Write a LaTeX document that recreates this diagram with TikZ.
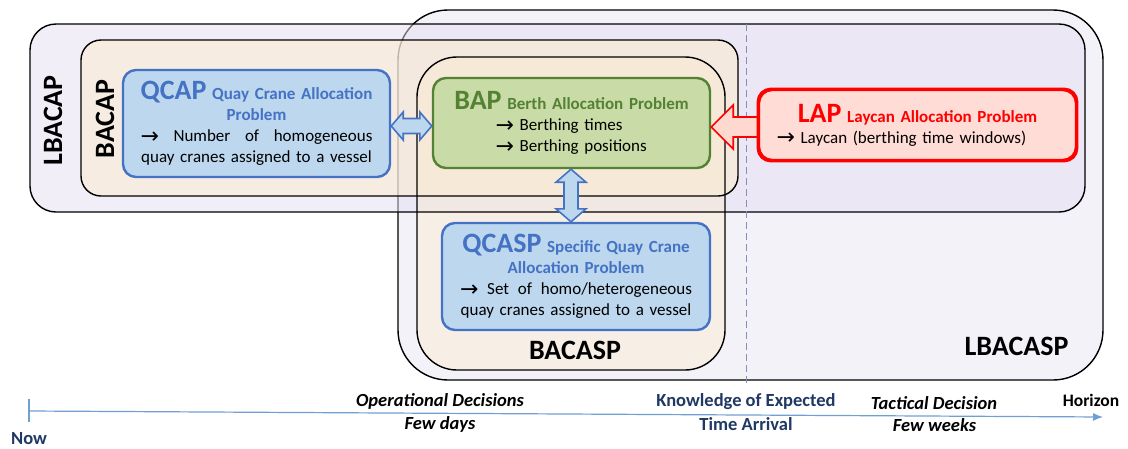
\documentclass[tikz,border=0pt]{standalone}
\usepackage{fontspec}
\setmainfont{Carlito}
\newfontfamily\arrfont{DejaVu Sans}
\usetikzlibrary{calc,arrows.meta}
\definecolor{lav}{HTML}{F4F2F9}
\definecolor{lavB}{HTML}{E4DEF0}
\definecolor{beige}{HTML}{FCEBCF}
\definecolor{qfill}{HTML}{BDD7EE}
\definecolor{qdraw}{HTML}{4472C4}
\definecolor{bfill}{HTML}{C9DBA6}
\definecolor{bdraw}{HTML}{548235}
\definecolor{lfill}{HTML}{FFDCD5}
\definecolor{ldraw}{HTML}{FF0000}
\definecolor{rfill}{HTML}{FFD9CF}
\definecolor{navy}{HTML}{203864}
\definecolor{tline}{HTML}{6F9FD3}
\definecolor{dashc}{HTML}{8090B8}
\newcommand{\bigT}[2]{{\fontsize{28}{28}\selectfont\bfseries\textcolor{#1}{#2}}}
\newcommand{\smT}[2]{{\fontsize{17}{21}\selectfont\bfseries\textcolor{#1}{#2}}}
\newcommand{\arr}{\raisebox{-1.5pt}{\arrfont\fontsize{22}{15}\selectfont →}}
\newcommand{\dblH}[2]{%
\filldraw[barrow] (#1) -- ($(#1)+(12,-14)$) -- ($(#1)+(12,-7.5)$) -- ($(#2)+(-12,-7.5)$) -- ($(#2)+(-12,-14)$) -- (#2) -- ($(#2)+(-12,14)$) -- ($(#2)+(-12,7.5)$) -- ($(#1)+(12,7.5)$) -- ($(#1)+(12,14)$) -- cycle;}
\newcommand{\dblV}[2]{%
\filldraw[barrow] (#1) -- ($(#1)+(15,13)$) -- ($(#1)+(7,13)$) -- ($(#2)+(7,-13)$) -- ($(#2)+(15,-13)$) -- (#2) -- ($(#2)+(-15,-13)$) -- ($(#2)+(-7,-13)$) -- ($(#1)+(-7,13)$) -- ($(#1)+(-15,13)$) -- cycle;}
\begin{document}
\begin{tikzpicture}[x=1pt,y=-1pt,
  region/.style={draw=black, line width=1.4pt, inner sep=0pt},
  regfill/.style={inner sep=0pt},
  qbox/.style={draw=qdraw, fill=qfill, line width=2.4pt, rounded corners=13pt, inner sep=0pt},
  bbox/.style={draw=bdraw, fill=bfill, line width=2.4pt, rounded corners=13pt, inner sep=0pt},
  lbox/.style={draw=ldraw, fill=lfill, line width=2.4pt, rounded corners=13pt, inner sep=0pt},
  barrow/.style={draw=qdraw, fill=qfill, line width=1.6pt, line join=miter},
  rarrow/.style={draw=ldraw, fill=rfill, line width=1.6pt, line join=miter},
  reglabel/.style={font=\fontsize{28}{28}\selectfont\bfseries, inner sep=0pt},
  tltext/.style={font=\fontsize{18.5}{18.5}\selectfont\bfseries\itshape, inner sep=0pt},
  tlnavy/.style={font=\fontsize{18.5}{18.5}\selectfont\bfseries, text=navy, inner sep=0pt},
  body/.style={font=\fontsize{17}{21}\selectfont}
]
\useasboundingbox (0,0) rectangle (1128,448);
\fill[white] (0,0) rectangle (1128,448);

% LBACASP (behind)
\node[region, fill=lav, rounded corners=50pt, minimum width=705pt, minimum height=370pt] (lbacasp) at (750.5,195) {};
% fills
\node[regfill, fill=lavB, fill opacity=0.5, rounded corners=26pt, minimum width=1055pt, minimum height=188pt] (lbacapF) at (557.5,118) {};
\node[regfill, fill=beige, fill opacity=0.55, rounded corners=20pt, minimum width=657pt, minimum height=156pt] (bacapF) at (409.5,118) {};
\node[regfill, fill=beige, fill opacity=0.45, rounded corners=40pt, minimum width=308pt, minimum height=313pt] (bacaspF) at (571,213.5) {};
% borders
\node[region, rounded corners=26pt, minimum width=1055pt, minimum height=188pt] (lbacap) at (557.5,118) {};
\node[region, rounded corners=20pt, minimum width=657pt, minimum height=156pt] (bacap) at (409.5,118) {};
\node[region, rounded corners=40pt, minimum width=308pt, minimum height=313pt] (bacasp) at (571,213.5) {};

% dashed line
\coordinate (dtop) at (746,24);
\coordinate (dbot) at (746,386);
\draw[dashc, line width=1pt, dash pattern=on 7pt off 4pt] (dtop) -- (dbot);

% region labels
\node[reglabel, rotate=90] (lbl1) at (53,120.5) {LBACAP};
\node[reglabel, rotate=90] (lbl2) at (105,119) {BACAP};
\node[reglabel] (lbl3) at (575,350.5) {BACASP};
\node[reglabel] (lbl4) at (1016.5,346.5) {LBACASP};

% problem boxes
\node[qbox, minimum width=267pt, minimum height=107pt, text width=232pt, align=center, body] (qcap) at (256.5,123.5)
 {\bigT{qdraw}{QCAP} \smT{qdraw}{Quay Crane Allocation}\\
  \smT{qdraw}{Problem}\\
  \arr\hfill Number\hfill of\hfill homogeneous\\
  quay cranes assigned to a vessel};

\node[bbox, minimum width=277pt, minimum height=90pt, text width=240pt, align=left, body] (bap) at (571.5,123)
 {\makebox[240pt][c]{\bigT{bdraw}{BAP} \smT{bdraw}{Berth Allocation Problem}}\\
  \hspace*{44pt}\arr\ Berthing times\\
  \hspace*{44pt}\arr\ Berthing positions};

\node[lbox, minimum width=317pt, minimum height=70pt, text width=282pt, align=left, body] (lap) at (917.5,125)
 {\makebox[282pt][c]{\bigT{ldraw}{LAP} \smT{ldraw}{Laycan Allocation Problem}}\\
  \arr\ Laycan (berthing time windows)};

\node[qbox, minimum width=268pt, minimum height=107pt, text width=232pt, align=center, body] (qcasp) at (576,276.5)
 {\bigT{qdraw}{QCASP} \smT{qdraw}{Specific Quay Crane}\\
  \smT{qdraw}{Allocation Problem}\\
  \arr\hfill Set\hfill of\hfill homo/heterogeneous\\
  quay cranes assigned to a vessel};

% connectors
\coordinate (yH) at (0,126);
\coordinate (yR) at (0,127);
\coordinate (xV) at (571,0);
\coordinate (qE) at (qcap.east |- yH);
\coordinate (bW) at (bap.west |- yH);
\dblH{qE}{bW}
\coordinate (bS) at (xV |- bap.south);
\coordinate (qN) at (xV |- qcasp.north);
\dblV{bS}{qN}
\coordinate (bE) at (bap.east |- yR);
\coordinate (lW) at (lap.west |- yR);
\filldraw[rarrow] (bE) -- ($(bE)+(22,-22)$) -- ($(bE)+(22,-10)$) -- ($(lW)+(0,-10)$) -- ($(lW)+(0,10)$) -- ($(bE)+(22,10)$) -- ($(bE)+(22,22)$) -- cycle;
% redraw LAP border over arrow tail
\draw[draw=ldraw, line width=2.4pt, rounded corners=13pt] (lap.north west) rectangle (lap.south east);

% timeline
\coordinate (now) at (29,411);
\coordinate (hor) at (1103,417);
\coordinate (tickA) at (29,399);
\coordinate (tickB) at (29,422);
\draw[tline, line width=1.2pt] (tickA) -- (tickB);
\draw[tline, line width=1.2pt, -{Latex[length=10pt,width=8pt]}] (now) -- (hor);
\node[tlnavy] (tnow) at (29,439) {Now};
\node[tltext] (op1) at (440,401) {Operational Decisions};
\node[tltext] (op2) at (440,424) {Few days};
\node[tlnavy] (kn1) at (746,402) {Knowledge of Expected};
\node[tlnavy] (kn2) at (746,424.5) {Time Arrival};
\node[tltext] (ta1) at (934,403) {Tactical Decision};
\node[tltext] (ta2) at (934.5,425.5) {Few weeks};
\node[font=\fontsize{17.5}{17.5}\selectfont\bfseries, inner sep=0pt] (hz) at (1091,400.5) {Horizon};
\end{tikzpicture}
\end{document}
